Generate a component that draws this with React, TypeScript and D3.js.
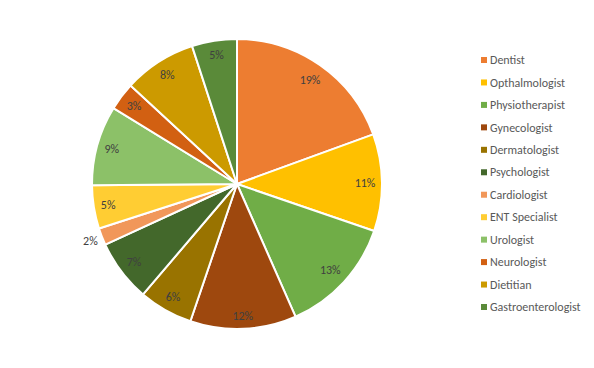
import React from 'react';
import * as d3 from 'd3';

const categories = ['Dentist', 'Opthalmologist', 'Physiotherapist', 'Gynecologist', 'Dermatologist', 'Psychologist',
  'Cardiologist', 'ENT Specialist', 'Urologist', 'Neurologist', 'Dietitian', 'Gastroenterologist'];
const values = [19.4, 10.8, 13.1, 11.8, 6.0, 6.9, 1.9, 4.8, 8.9, 3.1, 8.1, 5.0];
const colors = ['#ED7D31', '#FFC000', '#70AD47', '#9E480E', '#997300', '#43682B',
  '#F1975A', '#FFCD33', '#8CC168', '#D26012', '#CC9A00', '#5A8A39'];

const width = 594;
const height = 368;
const cx = 237;
const cy = 184;
const radius = 145;
const font = 'Calibri, Carlito, Lato, sans-serif';

export default function App() {
  const total = d3.sum(values);
  const pie = d3.pie<number>().sort(null).value(d => d);
  const arcs = pie(values);
  const arc = d3.arc<d3.PieArcDatum<number>>().innerRadius(0).outerRadius(radius);
  const legendY = d3.scalePoint<string>().domain(categories).range([60, 307]);

  return (
    <svg width={width} height={height} style={{ position: 'absolute', left: 0, top: 0, background: '#fff' }}>
      <g transform={`translate(${cx},${cy})`}>
        {arcs.map((a, i) => (
          <path key={i} d={arc(a) || ''} fill={colors[i]} stroke='#fff' strokeWidth={2} strokeLinejoin='round' />
        ))}
        {arcs.map((a, i) => {
          const label = Math.round(values[i] / total * 100) + '%';
          const mid = (a.startAngle + a.endAngle) / 2;
          const s = Math.sin(mid), c = Math.cos(mid);
          const hw = label.length * 3.3, hh = 6;
          // small slices get their label just outside the pie
          let r = radius - 7 - (hw * Math.abs(s) + hh * Math.abs(c));
          if (a.endAngle - a.startAngle < 0.15) r = radius + 4 + hw * Math.abs(s) + hh * Math.abs(c);
          return (
            <text key={i} x={r * s} y={-r * c} dy='0.35em' textAnchor='middle'
              fontFamily={font} fontSize={12} fill='#404040'>{label}</text>
          );
        })}
      </g>
      <g>
        {categories.map((name, i) => (
          <g key={name} transform={`translate(481,${legendY(name)})`}>
            <rect x={0} y={-3} width={6} height={6} fill={colors[i]} />
            <text x={9} dy='0.35em' fontFamily={font} fontSize={12} fill='#595959'>{name}</text>
          </g>
        ))}
      </g>
    </svg>
  );
}
